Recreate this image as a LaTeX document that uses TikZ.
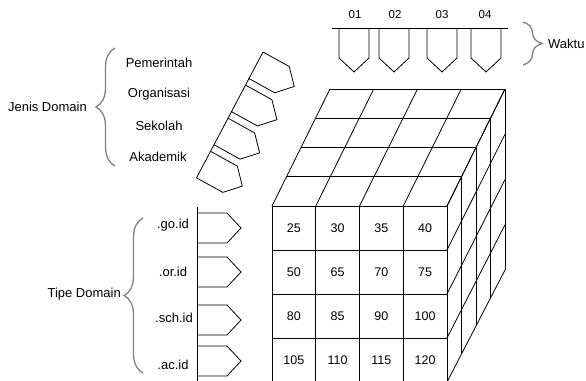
\documentclass[tikz,border=0pt]{standalone}
\usepackage{fontspec}
\setmainfont{Liberation Sans}
\usetikzlibrary{decorations.pathreplacing}
\begin{document}
\begin{tikzpicture}[x=1pt,y=-1pt,
  lbl/.style={font=\fontsize{13}{15}\selectfont, inner sep=0pt},
  num/.style={font=\fontsize{12.5}{14}\selectfont, inner sep=0pt},
  tnum/.style={font=\fontsize{11.5}{13}\selectfont, inner sep=0pt},
  ln/.style={line width=0.8pt, draw=black},
  brc/.style={decorate, decoration={brace, amplitude=19pt}, draw=gray, line width=1.3pt}]
\useasboundingbox (0,0) rectangle (586,380);
\clip (0,0) rectangle (586,380);
\newcommand\pentarrow[3]{\draw[ln, shift={(#1,#2)}, rotate=#3] (0,0) -- (30,0) -- (44,15) -- (30,30) -- (0,30);}
% ---- Waktu ----
\coordinate (wl) at (332,28); \coordinate (wr) at (508,28);
\draw[ln] (wl) -- (wr);
\pentarrow{369}{28}{-90}
\pentarrow{409}{28}{-90}
\pentarrow{457}{28}{-90}
\pentarrow{501}{28}{-90}
\node[tnum] (t1) at (355,15) {01};
\node[tnum] (t2) at (395,15) {02};
\node[tnum] (t3) at (442,15) {03};
\node[tnum] (t4) at (485,15) {04};
\coordinate (wb1) at (523,22); \coordinate (wb2) at (523,65);
\draw[brc] (wb1) -- (wb2);
\node[lbl, anchor=west] (waktu) at (548,44) {Waktu};
% ---- Jenis Domain ----
\coordinate (jb1) at (115,166); \coordinate (jb2) at (115,48);
\draw[brc] (jb1) -- (jb2);
\node[lbl, anchor=east] (jenis) at (87,107) {Jenis Domain};
\node[lbl] (j1) at (159,63) {Pemerintah};
\node[lbl] (j2) at (159,94) {Organisasi};
\node[lbl] (j3) at (159,126) {Sekolah};
\node[lbl] (j4) at (158,157) {Akademik};
\coordinate (jtop) at (263,52); \coordinate (jbot) at (196.5,177.9);
\draw[ln] (jtop) -- (jbot);
\foreach \k in {0,...,3}{
  \pentarrow{263-17.3*\k}{52+33.2*\k}{-29}
}
% ---- Tipe Domain ----
\coordinate (tb1) at (143,373); \coordinate (tb2) at (143,218);
\draw[brc] (tb1) -- (tb2);
\node[lbl, anchor=east] (tipe) at (121,294) {Tipe Domain};
\node[lbl] (d1) at (173,225) {.go.id};
\node[lbl] (d2) at (173,272) {.or.id};
\node[lbl] (d3) at (174,318) {.sch.id};
\node[lbl] (d4) at (173,365) {.ac.id};
\coordinate (htop) at (197,207); \coordinate (hbot) at (197,382);
\draw[ln] (htop) -- (hbot);
\pentarrow{197}{213}{0}
\pentarrow{197}{257}{0}
\pentarrow{197}{305}{0}
\pentarrow{197}{346}{0}
% ---- Cube ----
% front face
\foreach \j in {0,...,4}{ \draw[ln] (272+43.75*\j,206) -- (272+43.75*\j,384); }
\foreach \i in {0,...,4}{ \draw[ln] (272,206+44*\i) -- (447,206+44*\i); }
% top face
\foreach \k in {1,...,4}{ \draw[ln] (272+14.5*\k,206-29.25*\k) -- (447+14.5*\k,206-29.25*\k); }
\foreach \j in {0,...,4}{ \draw[ln] (272+43.75*\j,206) -- (330+43.75*\j,89); }
% right face
\foreach \i in {0,...,4}{ \draw[ln] (447,206+44*\i) -- (505,89+45.25*\i); }
\foreach \k in {1,...,4}{ \draw[ln] (447+14.5*\k,206-29.25*\k) -- (447+14.5*\k,382-28*\k); }
% numbers
\foreach \v [count=\n from 0] in {25,30,35,40,50,65,70,75,80,85,90,100,105,110,115,120}{
  \pgfmathtruncatemacro\r{int(\n/4)}
  \pgfmathtruncatemacro\c{mod(\n,4)}
  \node[num] (c\r\c) at (293.9+43.75*\c,228+44*\r) {\v};
}
\end{tikzpicture}
\end{document}
